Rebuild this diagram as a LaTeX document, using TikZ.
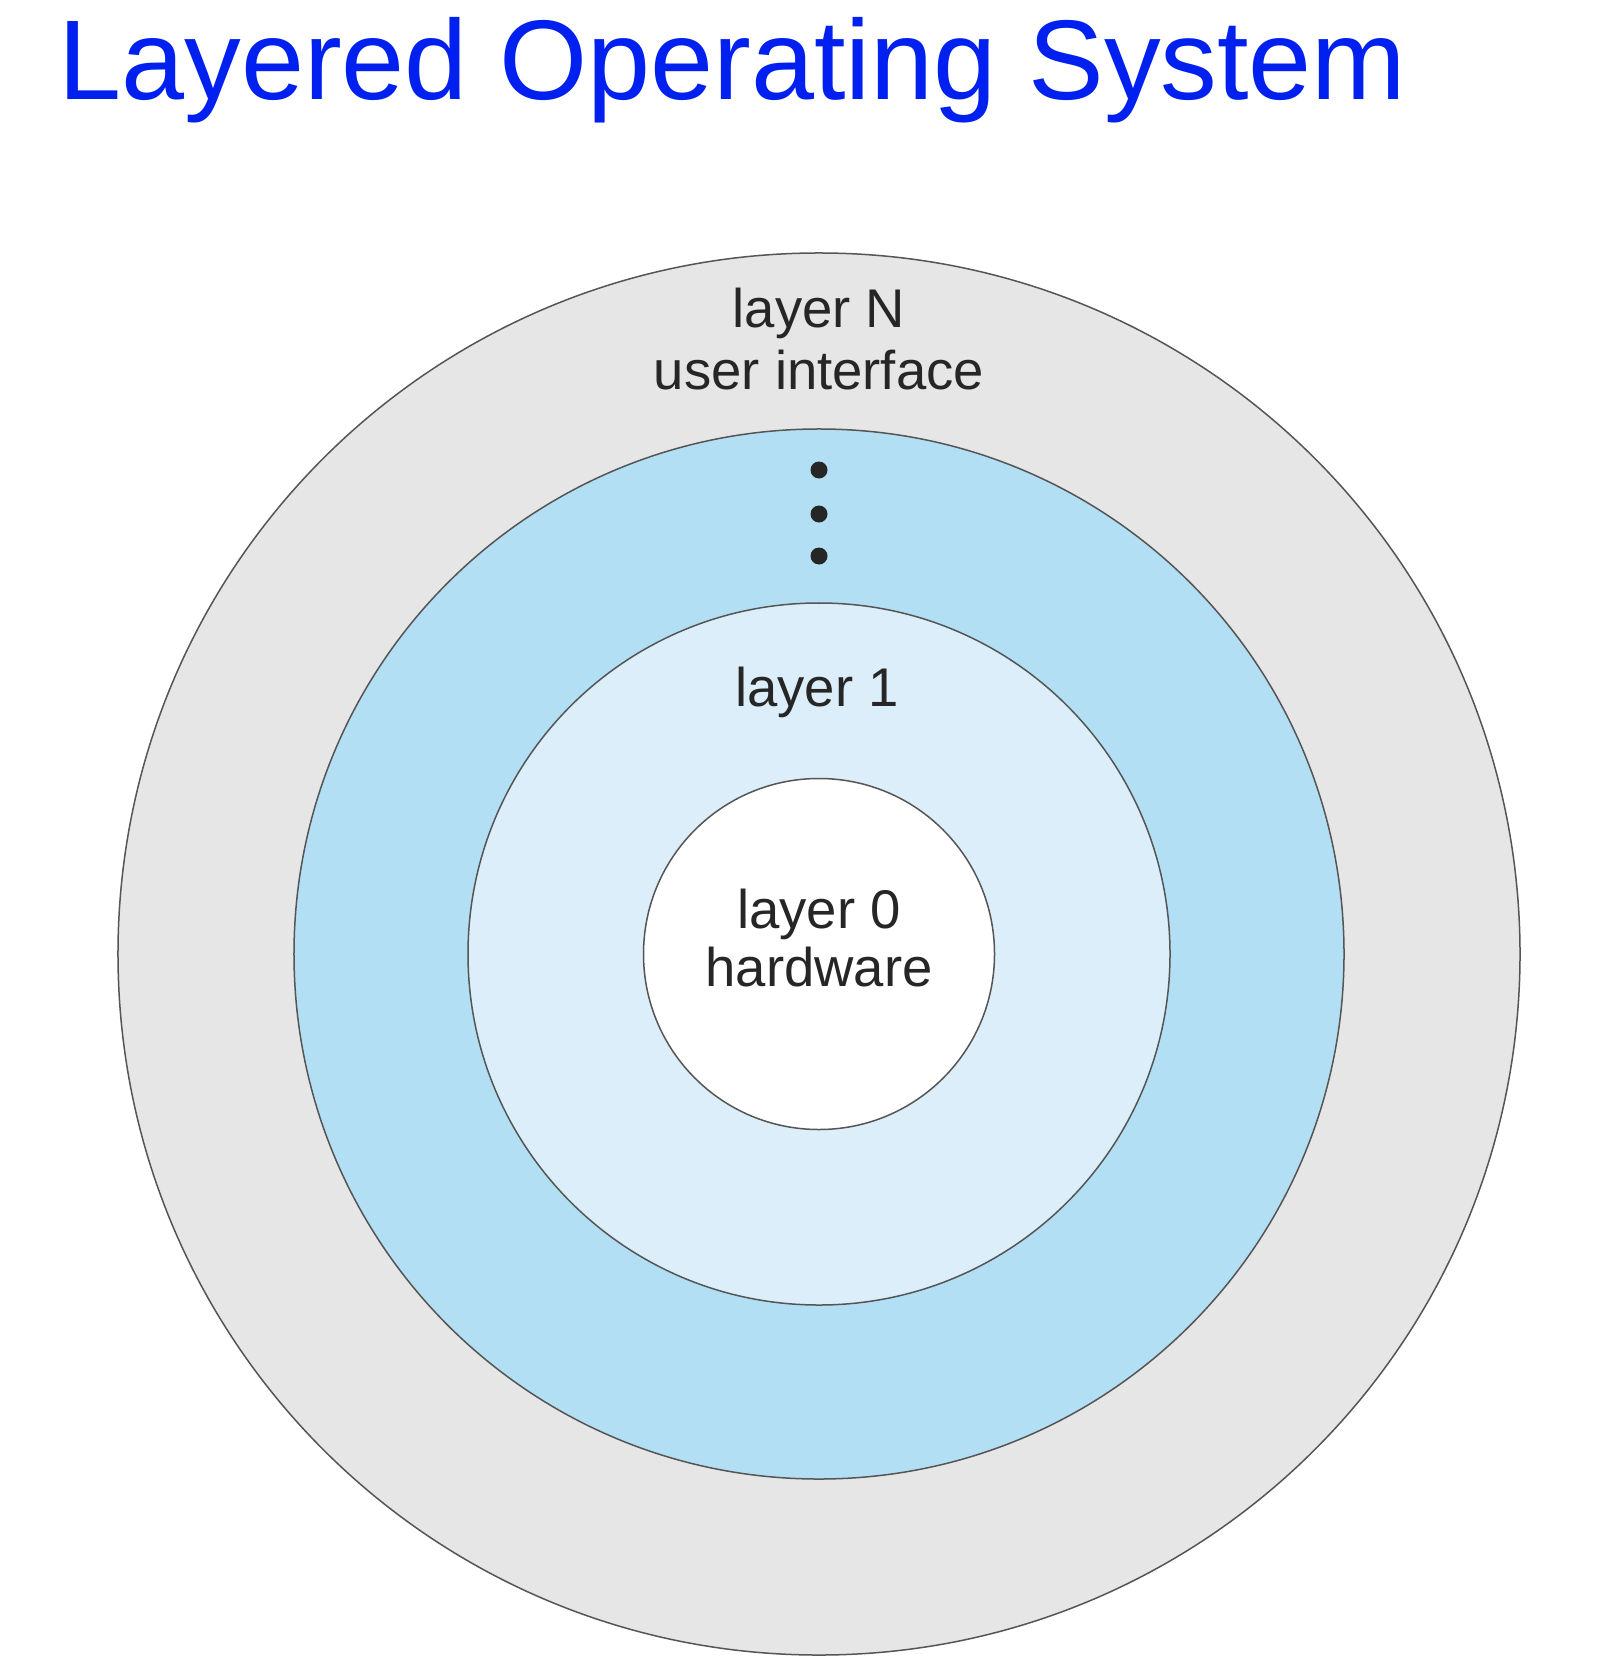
\documentclass[tikz,border=0pt]{standalone}
\usepackage{fontspec}
\setmainfont{Liberation Sans}
\usepackage{tikz}

\definecolor{titleblue}{RGB}{0,32,240}
\definecolor{ringgray}{RGB}{230,230,230}
\definecolor{ringblue}{RGB}{179,223,245}
\definecolor{ringpale}{RGB}{219,238,249}
\definecolor{edgegray}{RGB}{85,85,85}

\begin{document}
\begin{tikzpicture}[x=0.2mm, y=-0.2mm]
        \tikzstyle{ring} = [draw=edgegray, line width=0.3mm, circle, inner sep=0pt]
        \tikzstyle{lbl} = [anchor=base, inner sep=0pt, font=\fontsize{31}{36}\selectfont, text=black!85]
        \useasboundingbox (0,0) rectangle (1608,1658);
        \node[anchor=base west, inner sep=0pt, text=titleblue, font=\fontsize{64.5}{78}\selectfont] (title) at (58,100) {Layered Operating System};
        \node[ring, fill=ringgray, minimum size=280.4mm] (layerN) at (819,954) {};
        \node[ring, fill=ringblue, minimum size=210mm] (mid) at (819,954) {};
        \node[ring, fill=ringpale, minimum size=140.4mm] (layer1) at (819,954) {};
        \node[ring, fill=white, minimum size=70.2mm] (layer0) at (819,954) {};
        \node[lbl] (nname) at (819,328) {layer N};
        \node[lbl] (ndesc) at (819,389) {user interface};
        \foreach \y/\n in {470/a, 514/b, 556/c}
          \fill[black!85] (819,\y) circle (1.7mm) coordinate (dot\n);
        \node[lbl] (oname) at (817,706) {layer 1};
        \node[lbl] (zname) at (819,928) {layer 0};
        \node[lbl] (zdesc) at (819,986) {hardware};
      \end{tikzpicture}
\end{document}
